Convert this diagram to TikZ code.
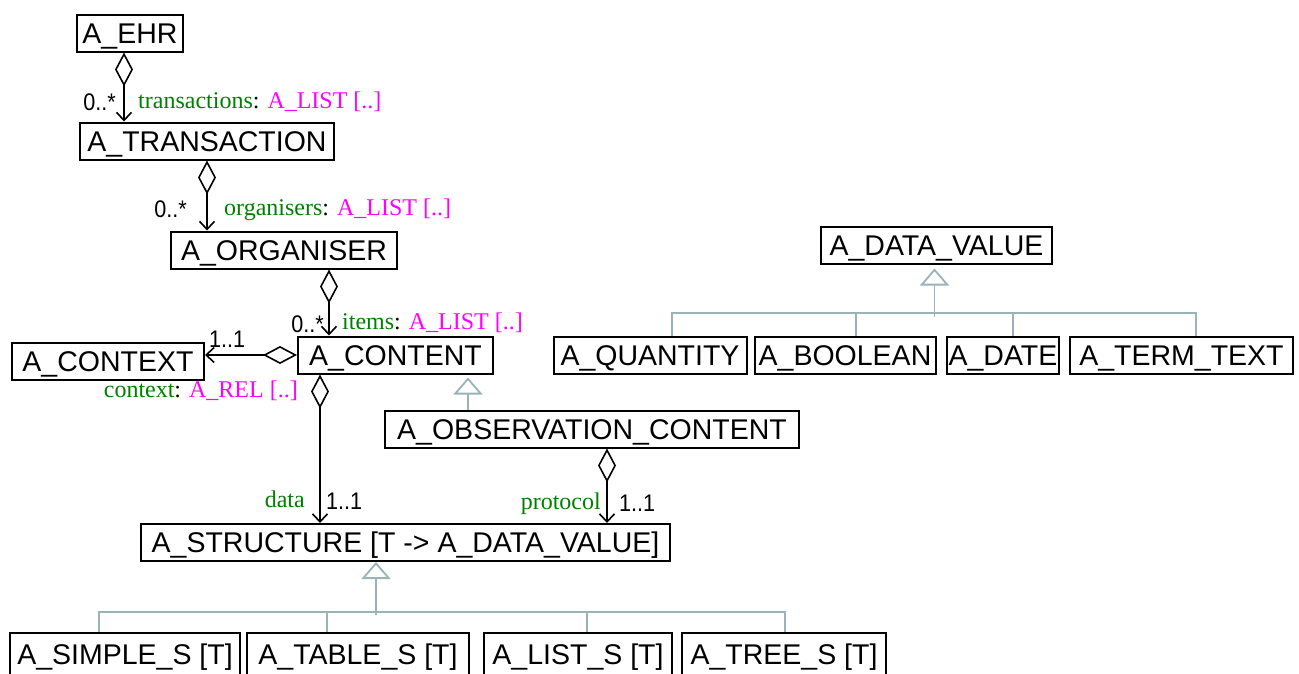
\documentclass[tikz,border=0pt]{standalone}
\usepackage{fontspec}
\setmainfont{Liberation Serif}
\newfontfamily\lsans{Liberation Sans}
\usetikzlibrary{arrows.meta}
\definecolor{rolegreen}{RGB}{0,128,0}
\definecolor{typepink}{RGB}{255,0,255}
\definecolor{gengrey}{RGB}{153,180,185}
\newcommand{\clsfont}{\lsans\fontsize{28.5}{30}\selectfont}
\newcommand{\multfont}{\lsans\fontsize{24}{26}\selectfont}
\newcommand{\rolefont}{\fontsize{24}{26}\selectfont}
\newcommand{\role}[2]{\textcolor{rolegreen}{#1}: \textcolor{typepink}{#2}}
\newcommand{\narrow}[1]{\scalebox{0.9}[1]{#1}}
\tikzset{
  cls/.style={draw, line width=2pt, inner sep=0pt, minimum height=37pt,
    font=\clsfont, text height=20.4pt, text depth=0pt},
  mult/.style={font=\multfont, inner sep=0pt},
  rolelbl/.style={font=\rolefont, inner sep=0pt},
  assoc/.style={draw, line width=1.6pt,
    {Diamond[open,length=34pt,width=18pt]}-{Straight Barb[length=8pt,width=15pt]}},
  gen/.style={draw=gengrey, line width=1.8pt},
  genhead/.style={gen, -{Triangle[open,length=17pt,width=29pt]}}
}
\begin{document}
\begin{tikzpicture}[x=1pt,y=-1pt]
\clip (0,0) rectangle (1299,673);
\fill[white] (0,0) rectangle (1299,673);

% classes
\node[cls, minimum width=106pt] (ehr)    at (130,33)    {A\_EHR};
\node[cls, minimum width=254pt] (trans)  at (207,141)   {A\_TRANSACTION};
\node[cls, minimum width=226pt] (org)    at (284,250)   {A\_ORGANISER};
\node[cls, minimum width=195pt] (cont)   at (395.5,355) {A\_CONTENT};
\node[cls, minimum width=192pt] (ctx)    at (108,361)   {A\_CONTEXT};
\node[cls, minimum width=414pt] (obs)    at (592,429)   {A\_OBSERVATION\_CONTENT};
\node[cls, minimum width=529pt] (struct) at (405.5,542.5) {A\_STRUCTURE [T -> A\_DATA\_VALUE]};

\node[cls, minimum width=231pt] (dv)    at (936.5,245) {A\_DATA\_VALUE};
\node[cls, minimum width=193pt] (qty)   at (650,355)   {A\_QUANTITY};
\node[cls, minimum width=181pt] (bool)  at (845,355)   {A\_BOOLEAN};
\node[cls, minimum width=112pt] (date)  at (1003,355)  {A\_DATE};
\node[cls, minimum width=223pt] (term)  at (1181.5,355) {A\_TERM\_TEXT};

\node[cls, minimum width=230pt, minimum height=42pt] (simple) at (125,654) {A\_SIMPLE\_S [T]};
\node[cls, minimum width=222pt, minimum height=42pt] (table)  at (358,654) {A\_TABLE\_S [T]};
\node[cls, minimum width=188pt, minimum height=42pt] (lists)  at (578,654) {A\_LIST\_S [T]};
\node[cls, minimum width=204pt, minimum height=42pt] (tree)   at (784,654) {A\_TREE\_S [T]};

% aggregations
\draw[assoc] ([xshift=-6pt]ehr.south) -- ([xshift=-6pt]ehr.south |- trans.north);
\draw[assoc] (trans.south) -- (trans.south |- org.north);
\draw[assoc] ([xshift=45pt]org.south) -- ([xshift=45pt]org.south |- cont.north);
\draw[assoc] (cont.west) -- (ctx.east |- cont.west);
\draw[assoc] ([xshift=-75.5pt]cont.south) -- ([xshift=-75.5pt]cont.south |- struct.north);
\draw[assoc] ([xshift=15pt]obs.south) -- ([xshift=15pt]obs.south |- struct.north);

% multiplicities and role names
\node[mult, anchor=base east] (m1) at (116,110) {\narrow{0..*}};
\node[rolelbl, anchor=base west] (r1) at (138,108) {\role{transactions}{A\_LIST [..]}};
\node[mult, anchor=base east] (m2) at (187,217) {\narrow{0..*}};
\node[rolelbl, anchor=base west] (r2) at (224,215) {\role{organisers}{A\_LIST [..]}};
\node[mult, anchor=base east] (m3) at (324,332) {\narrow{0..*}};
\node[rolelbl, anchor=base west] (r3) at (342,329) {\role{items}{A\_LIST [..]}};
\node[mult, anchor=base west] (m4) at (209,347) {\narrow{1..1}};
\node[rolelbl, anchor=base east] (r4) at (298,397) {\role{context}{A\_REL [..]}};
\node[rolelbl, anchor=base east, text=rolegreen] (r5) at (305,507) {data};
\node[mult, anchor=base west] (m5) at (326,509) {\narrow{1..1}};
\node[rolelbl, anchor=base east, text=rolegreen] (r6) at (601,509) {protocol};
\node[mult, anchor=base west] (m6) at (619,511) {\narrow{1..1}};

% generalisation: observation content
\draw[genhead] ([xshift=-124pt]obs.north) -- ([xshift=-124pt,yshift=-3pt]obs.north |- cont.south);

% generalisation: data values
\coordinate (dvbus) at (934.5,313);
\draw[genhead] ([yshift=-4pt]dvbus) -- ([yshift=-4pt]dvbus |- dv.south);
\draw[gen] ([xshift=22pt]qty.north) |- ([xshift=14.5pt]term.north |- dvbus) -- ([xshift=14.5pt]term.north);
\draw[gen] ([xshift=11pt]bool.north) -- ([xshift=11pt]bool.north |- dvbus);
\draw[gen] ([xshift=10pt]date.north) -- ([xshift=10pt]date.north |- dvbus);

% generalisation: structures
\coordinate (stbus) at (376,612);
\draw[genhead] ([yshift=-3pt]stbus) -- (stbus |- struct.south);
\draw[gen] ([xshift=-26pt]simple.north) |- ([xshift=1pt]tree.north |- stbus) -- ([xshift=1pt]tree.north);
\draw[gen] ([xshift=-31pt]table.north) -- ([xshift=-31pt]table.north |- stbus);
\draw[gen] ([xshift=9pt]lists.north) -- ([xshift=9pt]lists.north |- stbus);
\end{tikzpicture}
\end{document}
